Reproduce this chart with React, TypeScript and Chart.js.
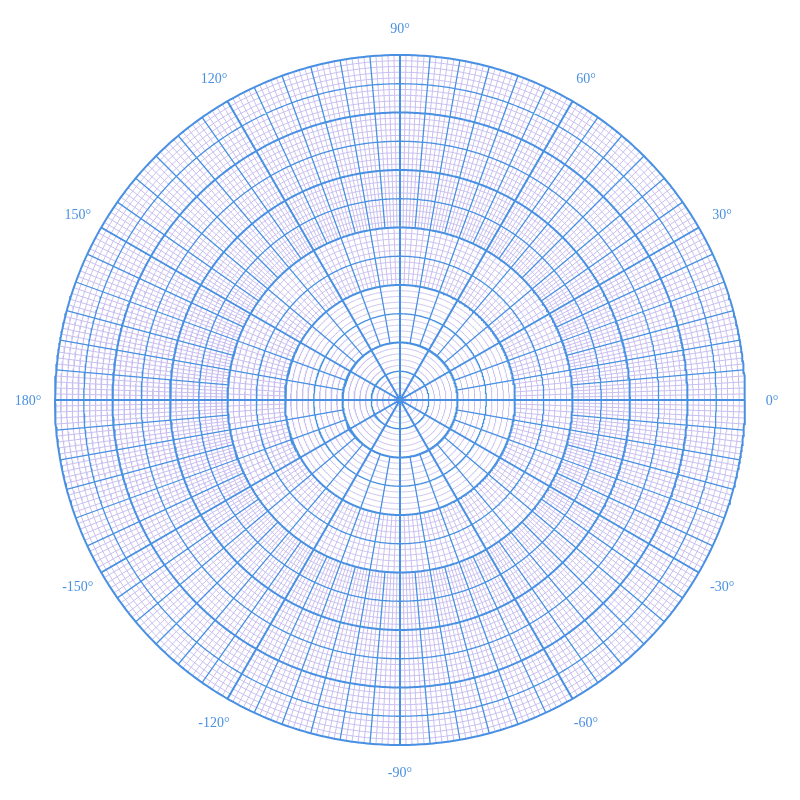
import React, { useEffect, useRef } from 'react';
import { Chart, registerables } from 'chart.js';

Chart.register(...registerables);

// ---- grid definition (radius unit = one major ring) ----
const outerRadius = 6;
const majorRings = [1, 2, 3, 4, 5, 6];
const halfRings = [0.5, 1.5, 2.5, 3.5, 4.5, 5.5];
const minorRingsPerMajor = 10;
// spoke zones: inner radius, outer radius, blue spacing (deg), purple spacing (deg, 0 = none)
const zoneInner = [0, 1, 2, 3];
const zoneOuter = [1, 2, 3, 6];
const zoneBlueStep = [30, 10, 10, 5];
const zonePurpleStep = [0, 0, 2, 1];
const mainSpokeStep = 30;
// angular tick labels
const angleTicks = [0, 30, 60, 90, 120, 150, 180, -150, -120, -90, -60, -30];
const angleLabels = ['0°', '30°', '60°', '90°', '120°', '150°', '180°', '-150°', '-120°', '-90°', '-60°', '-30°'];

const pxPerUnit = 57.5;
const axisLimit = 400 / pxPerUnit;
const labelRadius = 372 / pxPerUnit;

const BLUE = '#4a90e2';
const PURPLE = '#c8bff0';

type P = { x: number; y: number };
const GAP: P = { x: NaN, y: NaN };

function circlePts(r: number, out: P[]) {
  const n = 720;
  for (let i = 0; i <= n; i++) {
    const t = (i / n) * Math.PI * 2;
    out.push({ x: r * Math.cos(t), y: r * Math.sin(t) });
  }
  out.push(GAP);
}
function spokePts(deg: number, r0: number, r1: number, out: P[]) {
  const t = (deg * Math.PI) / 180;
  out.push({ x: r0 * Math.cos(t), y: r0 * Math.sin(t) });
  out.push({ x: r1 * Math.cos(t), y: r1 * Math.sin(t) });
  out.push(GAP);
}

function buildData() {
  const purple: P[] = [];
  const blueThin: P[] = [];
  const blueThick: P[] = [];
  for (let k = 1; k < outerRadius * minorRingsPerMajor; k++) {
    if (k % (minorRingsPerMajor / 2) === 0) continue;
    circlePts(k / minorRingsPerMajor, purple);
  }
  halfRings.forEach((r) => circlePts(r, blueThin));
  majorRings.forEach((r) => circlePts(r, blueThick));
  zoneInner.forEach((r0, z) => {
    const r1 = zoneOuter[z];
    const ps = zonePurpleStep[z];
    if (ps > 0) {
      for (let a = 0; a < 360; a += ps) {
        if (a % zoneBlueStep[z] === 0) continue;
        spokePts(a, r0, r1, purple);
      }
    }
    for (let a = 0; a < 360; a += zoneBlueStep[z]) {
      if (a % mainSpokeStep === 0) continue;
      spokePts(a, r0, r1, blueThin);
    }
  });
  for (let a = 0; a < 360; a += mainSpokeStep) spokePts(a, 0, outerRadius, blueThick);
  return { purple, blueThin, blueThick };
}

const angleLabelPlugin = {
  id: 'angleLabels',
  afterDraw(chart: any) {
    const { ctx, scales } = chart;
    const xs = scales.x;
    const ys = scales.y;
    ctx.save();
    ctx.fillStyle = BLUE;
    ctx.font = '14px "Liberation Serif", serif';
    ctx.textAlign = 'center';
    ctx.textBaseline = 'middle';
    angleTicks.forEach((a, i) => {
      const t = (a * Math.PI) / 180;
      const px = xs.getPixelForValue(labelRadius * Math.cos(t));
      const py = ys.getPixelForValue(labelRadius * Math.sin(t));
      ctx.fillText(angleLabels[i], px, py + 1);
    });
    ctx.restore();
  },
};

export default function App() {
  const ref = useRef<HTMLCanvasElement | null>(null);
  useEffect(() => {
    if (!ref.current) return;
    const { purple, blueThin, blueThick } = buildData();
    const line = (data: P[], color: string, width: number, order: number) => ({
      data,
      showLine: true,
      borderColor: color,
      borderWidth: width,
      pointRadius: 0,
      pointHoverRadius: 0,
      spanGaps: false,
      order,
    });
    const chart = new Chart(ref.current, {
      type: 'scatter',
      data: {
        datasets: [
          line(blueThick, BLUE, 2, 1),
          line(blueThin, BLUE, 1.3, 2),
          line(purple, PURPLE, 1, 3),
        ] as any,
      },
      options: {
        animation: false,
        responsive: false,
        devicePixelRatio: 1,
        events: [],
        layout: { padding: 0 },
        plugins: { legend: { display: false }, tooltip: { enabled: false } },
        scales: {
          x: { type: 'linear', min: -axisLimit, max: axisLimit, display: false },
          y: { type: 'linear', min: -axisLimit, max: axisLimit, display: false },
        },
      },
      plugins: [angleLabelPlugin],
    });
    return () => chart.destroy();
  }, []);
  return (
    <div style={{ position: 'absolute', left: 0, top: 0, width: 800, height: 800, background: '#fff' }}>
      <canvas ref={ref} width={800} height={800} />
    </div>
  );
}
